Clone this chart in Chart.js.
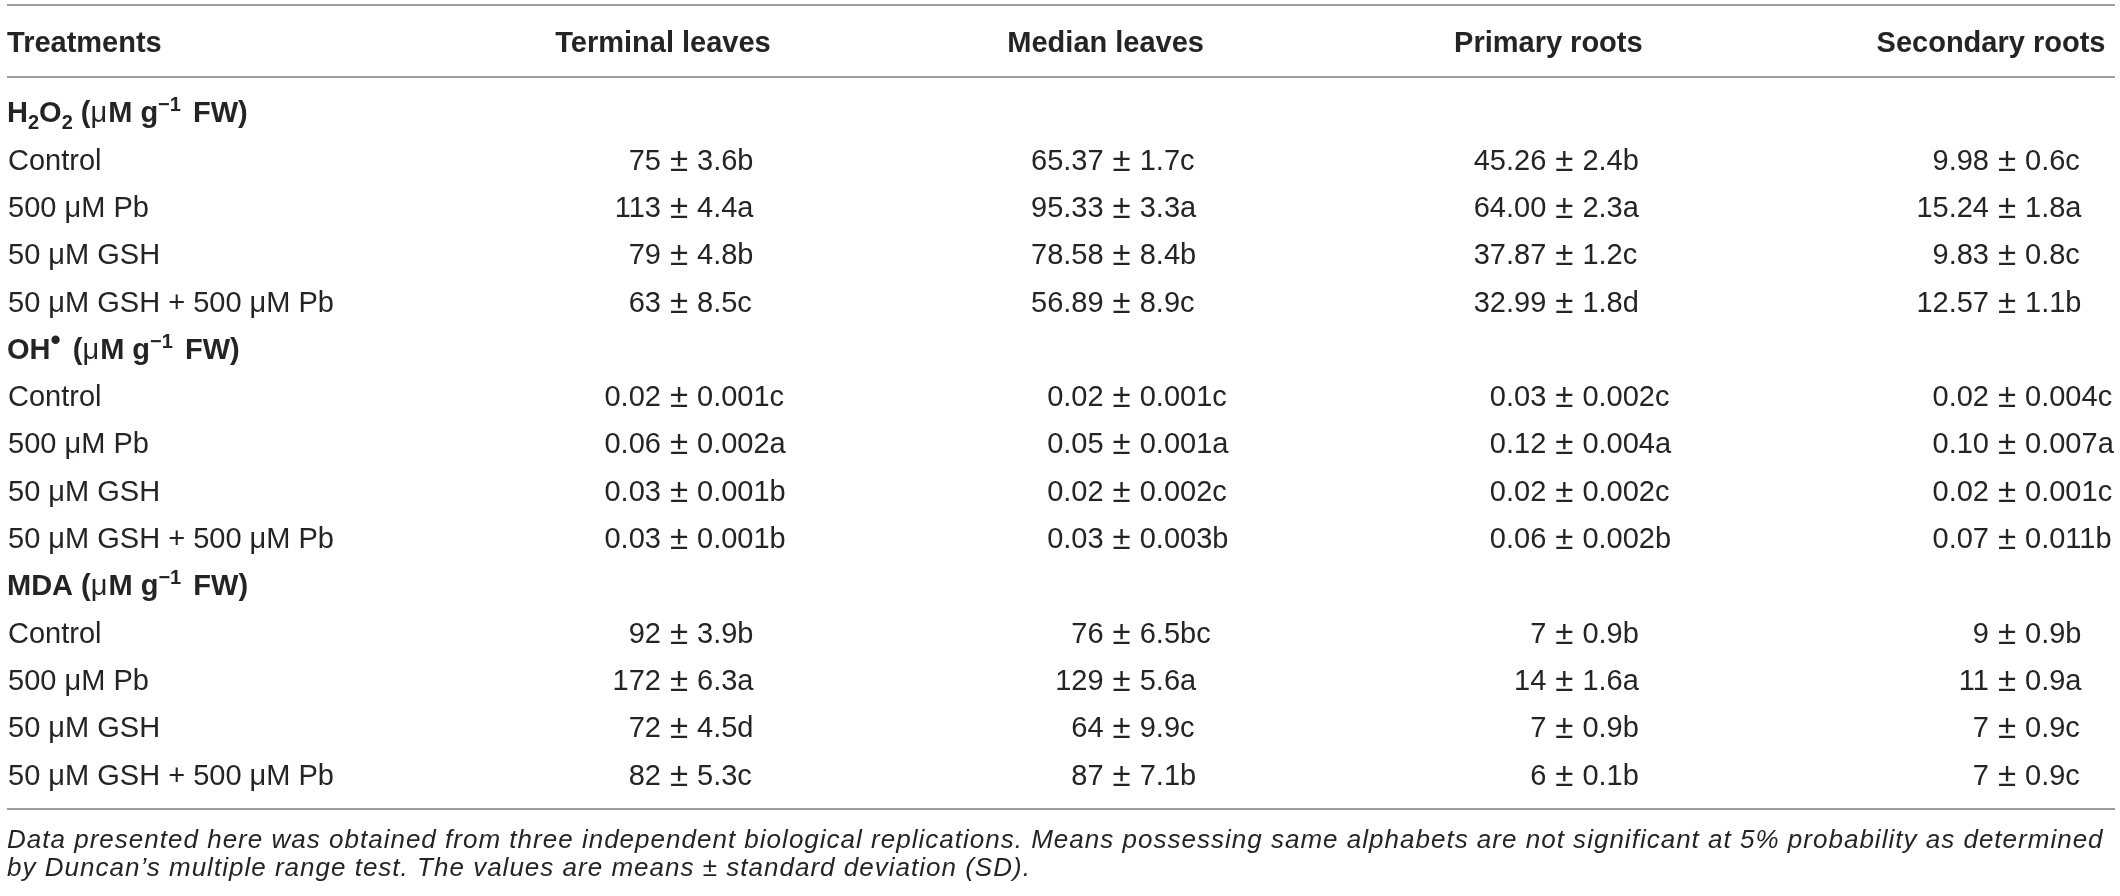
<!DOCTYPE html>
<html>
<head>
<meta charset="utf-8">
<style>
  html, body { margin: 0; padding: 0; background: #fff; overflow: hidden; }
  #wrap { width: 2120px; height: 896px; }
  canvas { display: block; }
</style>
<script src="https://cdn.jsdelivr.net/npm/chart.js@4.4.1/dist/chart.umd.min.js"></script>
</head>
<body>
<div id="wrap"><canvas id="tbl"></canvas></div>
<script>
// table content
var firstHeader = "Treatments";
var columnLabels = ["Terminal leaves", "Median leaves", "Primary roots", "Secondary roots"];
var treatments = ["Control", "500 μM Pb", "50 μM GSH", "50 μM GSH + 500 μM Pb"];
var groupTitles = ["H_{2}O_{2} (μM g^{−1} FW)", "OH^{•} (μM g^{−1} FW)", "MDA (μM g^{−1} FW)"];

// mean ± SD with Duncan letters, rows = treatments, cols = tissues
var h2o2Values = [
  ["75 ± 3.6b", "65.37 ± 1.7c", "45.26 ± 2.4b", "9.98 ± 0.6c"],
  ["113 ± 4.4a", "95.33 ± 3.3a", "64.00 ± 2.3a", "15.24 ± 1.8a"],
  ["79 ± 4.8b", "78.58 ± 8.4b", "37.87 ± 1.2c", "9.83 ± 0.8c"],
  ["63 ± 8.5c", "56.89 ± 8.9c", "32.99 ± 1.8d", "12.57 ± 1.1b"]
];
var ohValues = [
  ["0.02 ± 0.001c", "0.02 ± 0.001c", "0.03 ± 0.002c", "0.02 ± 0.004c"],
  ["0.06 ± 0.002a", "0.05 ± 0.001a", "0.12 ± 0.004a", "0.10 ± 0.007a"],
  ["0.03 ± 0.001b", "0.02 ± 0.002c", "0.02 ± 0.002c", "0.02 ± 0.001c"],
  ["0.03 ± 0.001b", "0.03 ± 0.003b", "0.06 ± 0.002b", "0.07 ± 0.011b"]
];
var mdaValues = [
  ["92 ± 3.9b", "76 ± 6.5bc", "7 ± 0.9b", "9 ± 0.9b"],
  ["172 ± 6.3a", "129 ± 5.6a", "14 ± 1.6a", "11 ± 0.9a"],
  ["72 ± 4.5d", "64 ± 9.9c", "7 ± 0.9b", "7 ± 0.9c"],
  ["82 ± 5.3c", "87 ± 7.1b", "6 ± 0.1b", "7 ± 0.9c"]
];
var groupValues = [h2o2Values, ohValues, mdaValues];

var footnoteLines = [
  "Data presented here was obtained from three independent biological replications. Means possessing same alphabets are not significant at 5% probability as determined",
  "by Duncan’s multiple range test. The values are means ± standard deviation (SD)."
];

// layout in scale units: x = column index (1..4 sits on the ± sign), y = row index
var labelCol = -0.518;
var headerRow = -1.48;
var ruleRows = [-2.262, -0.74, 14.735];
var footRows = [15.37, 15.96];

var FONT = '"Liberation Sans", Arial, Helvetica, sans-serif';
var INK = "#262324";

function drawRich(ctx, markup, x, y, size) {
  // _{..} subscript, ^{..} superscript, μ drawn in regular weight like the source
  var re = /(_|\^)\{([^}]*)\}/g, last = 0, m, parts = [];
  while ((m = re.exec(markup)) !== null) {
    if (m.index > last) parts.push({t: markup.slice(last, m.index), k: ""});
    parts.push({t: m[2], k: m[1]});
    last = re.lastIndex;
  }
  if (last < markup.length) parts.push({t: markup.slice(last), k: ""});
  var cx = x;
  parts.forEach(function(p) {
    var s = p.k ? Math.round(size * 0.7) : size;
    var dy = p.k == "_" ? size * 0.24 : (p.k == "^" ? -size * 0.38 : 0);
    if (p.t == "•") { s = size; dy = -size * 0.3; }
    p.t.split(/(μ)/).forEach(function(bit) {
      if (!bit) return;
      ctx.font = (bit == "μ" ? "" : "bold ") + s + "px " + FONT;
      ctx.fillText(bit, cx, y + dy);
      cx += ctx.measureText(bit).width + (bit == "μ" ? 1 : 0);
    });
    if (p.k == "^") cx += size * 0.14;
  });
}

var tablePlugin = {
  id: "tablePlugin",
  beforeDraw: function(chart) {
    var ctx = chart.ctx;
    ctx.save();
    ctx.fillStyle = "#fff";
    ctx.fillRect(0, 0, chart.width, chart.height);
    ctx.restore();
  },
  afterDraw: function(chart) {
    var ctx = chart.ctx, xs = chart.scales.x, ys = chart.scales.y;
    var size = 29, capMid = size * 0.358;
    ctx.save();
    ctx.fillStyle = INK;
    ctx.textBaseline = "alphabetic";

    // rules
    ctx.strokeStyle = "#9d9d9d";
    ctx.lineWidth = 2;
    ruleRows.forEach(function(r) {
      var py = Math.round(ys.getPixelForValue(r));
      ctx.beginPath();
      ctx.moveTo(xs.getPixelForValue(labelCol), py);
      ctx.lineTo(chart.chartArea.right - 5, py);
      ctx.stroke();
    });

    // header row
    ctx.font = "bold " + size + "px " + FONT;
    var hy = ys.getPixelForValue(headerRow) + capMid;
    ctx.textAlign = "left";
    ctx.fillText(firstHeader, xs.getPixelForValue(labelCol), hy);
    ctx.textAlign = "center";
    columnLabels.forEach(function(lab, c) {
      ctx.fillText(lab, xs.getPixelForValue(c + 1) - 16, hy);
    });

    // body
    var pmFont = "33px " + FONT;
    groupValues.forEach(function(vals, g) {
      var gRow = g * 5;
      ctx.textAlign = "left";
      drawRich(ctx, groupTitles[g], xs.getPixelForValue(labelCol), ys.getPixelForValue(gRow) + capMid, size);
      treatments.forEach(function(tr, t) {
        var py = ys.getPixelForValue(gRow + t + 1) + capMid;
        ctx.font = size + "px " + FONT;
        ctx.textAlign = "left";
        ctx.fillText(tr, xs.getPixelForValue(labelCol) + 1, py);
        vals[t].forEach(function(cell, c) {
          var bits = cell.split(" ± ");
          var pm = xs.getPixelForValue(c + 1);
          ctx.font = pmFont;
          var half = ctx.measureText("±").width / 2 + 9;
          ctx.textAlign = "center";
          ctx.fillText("±", pm, py + 1);
          ctx.font = size + "px " + FONT;
          ctx.textAlign = "right";
          ctx.fillText(bits[0], pm - half, py);
          ctx.textAlign = "left";
          ctx.fillText(bits[1], pm + half, py);
        });
      });
    });

    // footnote, first line stretched to the full width by letter spacing
    var fs = 26;
    ctx.textAlign = "left";
    ctx.font = "italic " + fs + "px " + FONT;
    var left = xs.getPixelForValue(labelCol), right = chart.chartArea.right - 17;
    var natural = ctx.measureText(footnoteLines[0]).width;
    var ls = (right - left - natural) / (footnoteLines[0].length - 1);
    ctx.letterSpacing = ls.toFixed(2) + "px";
    footnoteLines.forEach(function(line, i) {
      var py = ys.getPixelForValue(footRows[i]) + fs * 0.358;
      ctx.fillText(line, left, py);
    });
    ctx.restore();
  }
};

new Chart(document.getElementById("tbl"), {
  type: "scatter",
  data: { datasets: [{ data: [], pointRadius: 0 }] },
  options: {
    responsive: true,
    maintainAspectRatio: false,
    devicePixelRatio: 1,
    animation: false,
    events: [],
    layout: { padding: 0 },
    plugins: { legend: { display: false }, tooltip: { enabled: false } },
    scales: {
      x: { type: "linear", display: false, min: -0.53386, max: 4.25526 },
      y: { type: "linear", display: false, min: -2.3679, max: 16.5751, reverse: true }
    }
  },
  plugins: [tablePlugin]
});
</script>
</body>
</html>
